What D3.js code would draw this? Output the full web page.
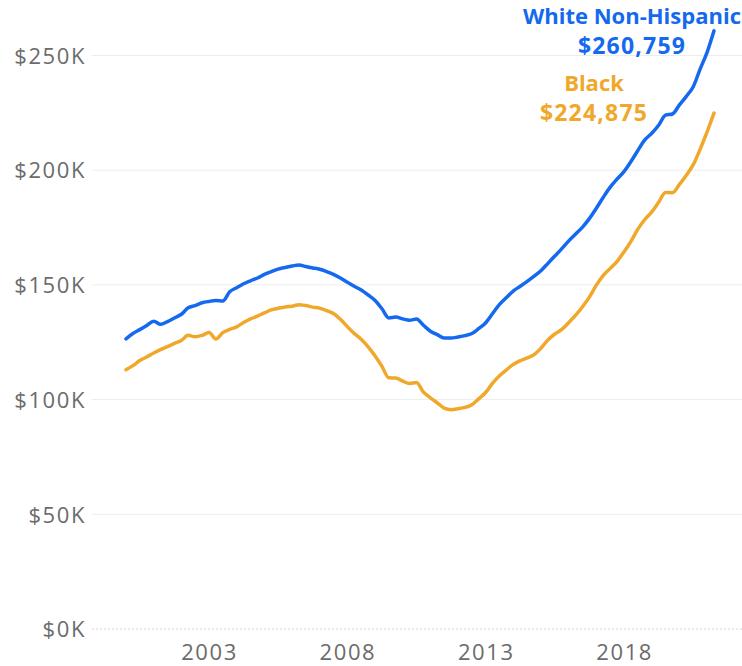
<!DOCTYPE html>
<html>
<head>
<meta charset="utf-8">
<script src="https://cdn.jsdelivr.net/npm/d3@7/dist/d3.min.js"></script>
<style>
  html, body { margin: 0; padding: 0; background: #ffffff; }
  svg { display: block; }
  .tick-label { font-family: "Open Sans", sans-serif; font-size: 22px; fill: #6b6b6b; letter-spacing: 1.6px; }
  .series-label { font-family: "Open Sans", sans-serif; font-weight: 700; font-size: 22px; }
  .series-value { letter-spacing: 1.2px; font-size: 23px; }
</style>
</head>
<body>
<svg id="chart" width="742" height="666"></svg>
<script>
// Quarterly observations, Jan 2000 – Apr 2021
const quarters = [
  "2000-01","2000-04","2000-07","2000-10",
  "2001-01","2001-04","2001-07","2001-10",
  "2002-01","2002-04","2002-07","2002-10",
  "2003-01","2003-04","2003-07","2003-10",
  "2004-01","2004-04","2004-07","2004-10",
  "2005-01","2005-04","2005-07","2005-10",
  "2006-01","2006-04","2006-07","2006-10",
  "2007-01","2007-04","2007-07","2007-10",
  "2008-01","2008-04","2008-07","2008-10",
  "2009-01","2009-04","2009-07","2009-10",
  "2010-01","2010-04","2010-07","2010-10",
  "2011-01","2011-04","2011-07","2011-10",
  "2012-01","2012-04","2012-07","2012-10",
  "2013-01","2013-04","2013-07","2013-10",
  "2014-01","2014-04","2014-07","2014-10",
  "2015-01","2015-04","2015-07","2015-10",
  "2016-01","2016-04","2016-07","2016-10",
  "2017-01","2017-04","2017-07","2017-10",
  "2018-01","2018-04","2018-07","2018-10",
  "2019-01","2019-04","2019-07","2019-10",
  "2020-01","2020-04","2020-07","2020-10",
  "2021-01","2021-04"
];

// Typical home value, thousands of dollars
const whiteNonHispanic = [
  126.5, 128.8, 130.5, 132.3,
  134.2, 132.8, 134.0, 135.6,
  137.2, 140.0, 141.0, 142.2,
  142.8, 143.2, 143.0, 147.0,
  148.8, 150.5, 151.8, 153.0,
  154.6, 155.8, 156.9, 157.6,
  158.2, 158.7, 158.0, 157.4,
  156.8, 155.8, 154.6, 153.0,
  151.2, 149.4, 147.8, 145.6,
  143.2, 139.6, 135.6, 136.0,
  135.2, 134.6, 135.1, 132.4,
  129.8, 128.3, 126.8, 126.8,
  127.3, 127.9, 128.8, 131.0,
  133.5, 137.5, 141.5, 144.5,
  147.4, 149.4, 151.5, 153.8,
  156.3, 159.4, 162.6, 165.8,
  169.2, 172.2, 175.2, 179.0,
  183.5, 188.2, 192.6, 196.2,
  199.5, 203.8, 208.6, 213.2,
  216.1, 219.6, 224.0, 224.5,
  228.5, 232.2, 236.4, 244.2,
  251.5, 260.759
];

const black = [
  113.0, 114.8, 117.0, 118.6,
  120.3, 121.8, 123.1, 124.5,
  125.8, 128.0, 127.4, 128.0,
  129.2, 126.4, 129.2, 130.6,
  131.7, 133.6, 135.2, 136.4,
  137.8, 139.1, 139.8, 140.4,
  140.7, 141.4, 141.0, 140.3,
  139.8, 138.8, 137.5, 135.0,
  131.8, 128.8, 126.3, 123.0,
  119.0, 114.5, 109.5, 109.4,
  108.0, 107.0, 107.4, 103.3,
  100.8, 98.6, 96.3, 95.6,
  96.0, 96.6, 97.8, 100.4,
  103.2, 107.2, 110.4, 113.0,
  115.4, 117.0, 118.2, 119.6,
  122.5, 126.0, 128.6, 130.6,
  133.6, 136.8, 140.5, 144.8,
  150.0, 154.2, 157.2, 160.3,
  164.5, 169.0, 174.3, 178.5,
  181.8, 186.0, 190.3, 190.2,
  193.8, 197.8, 202.4, 209.2,
  216.8, 224.875
];

const seriesNames = ["White Non-Hispanic", "Black"];
const seriesColors = ["#1469ee", "#f0a82b"];
const yTicks = [0, 50, 100, 150, 200, 250];
const xTickYears = ["2003", "2008", "2013", "2018"];

const svg = d3.select("#chart");
const parseMonth = d3.timeParse("%Y-%m");
const dates = quarters.map(parseMonth);

const gridLeft = 92, gridRight = 742;

const x = d3.scaleTime()
  .domain(d3.extent(dates))
  .range([126, 714]);

const y = d3.scaleLinear()
  .domain([0, 250])
  .range([629, 55.5]);

// Horizontal gridlines
svg.append("g")
  .selectAll("line")
  .data(yTicks)
  .join("line")
  .attr("x1", gridLeft)
  .attr("x2", gridRight)
  .attr("y1", d => y(d))
  .attr("y2", d => y(d))
  .attr("stroke", d => d === 0 ? "#d4d4d4" : "#ececec")
  .attr("stroke-width", 1)
  .attr("stroke-dasharray", d => d === 0 ? "2,2" : null);

// Y-axis labels
const yAxis = d3.axisLeft(y)
  .tickValues(yTicks)
  .tickSize(0)
  .tickPadding(0)
  .tickFormat(d => "$" + d + "K");
svg.append("g")
  .attr("transform", "translate(86,0)")
  .call(yAxis)
  .call(g => g.select(".domain").remove())
  .call(g => g.selectAll("text")
    .attr("class", "tick-label")
    .attr("dy", "0.35em")
    .attr("fill", null));

// X-axis labels
const xAxis = d3.axisBottom(x)
  .tickValues(xTickYears.map(yr => parseMonth(yr + "-01")))
  .tickSize(0)
  .tickPadding(0)
  .tickFormat(d3.timeFormat("%Y"));
svg.append("g")
  .attr("transform", "translate(0,660)")
  .call(xAxis)
  .call(g => g.select(".domain").remove())
  .call(g => g.selectAll("text")
    .attr("class", "tick-label")
    .attr("dy", 0)
    .attr("fill", null));

// Series lines
const series = [whiteNonHispanic, black];
const line = d3.line()
  .x((d, i) => x(dates[i]))
  .y(d => y(d))
  .curve(d3.curveMonotoneX);

svg.append("g")
  .selectAll("path")
  .data(series)
  .join("path")
  .attr("d", line)
  .attr("fill", "none")
  .attr("stroke", (d, i) => seriesColors[i])
  .attr("stroke-width", 3.5)
  .attr("stroke-linejoin", "round")
  .attr("stroke-linecap", "round");

// End labels: series name and final value
const fmtDollars = v => d3.format("$,")(Math.round(v * 1000));
const labelOffsets = [
  { dx: -82, nameDy: -7, valueDy: 23 },
  { dx: -120, nameDy: -22, valueDy: 8 }
];
series.forEach((vals, i) => {
  const last = vals[vals.length - 1];
  const lx = x(dates[dates.length - 1]) + labelOffsets[i].dx;
  const ly = y(last);
  const g = svg.append("g")
    .attr("class", "series-label")
    .attr("fill", seriesColors[i])
    .attr("text-anchor", "middle");
  g.append("text")
    .attr("x", lx)
    .attr("y", ly + labelOffsets[i].nameDy)
    .text(seriesNames[i]);
  g.append("text")
    .attr("class", "series-value")
    .attr("x", lx)
    .attr("y", ly + labelOffsets[i].valueDy)
    .text(fmtDollars(last));
});
</script>
</body>
</html>
